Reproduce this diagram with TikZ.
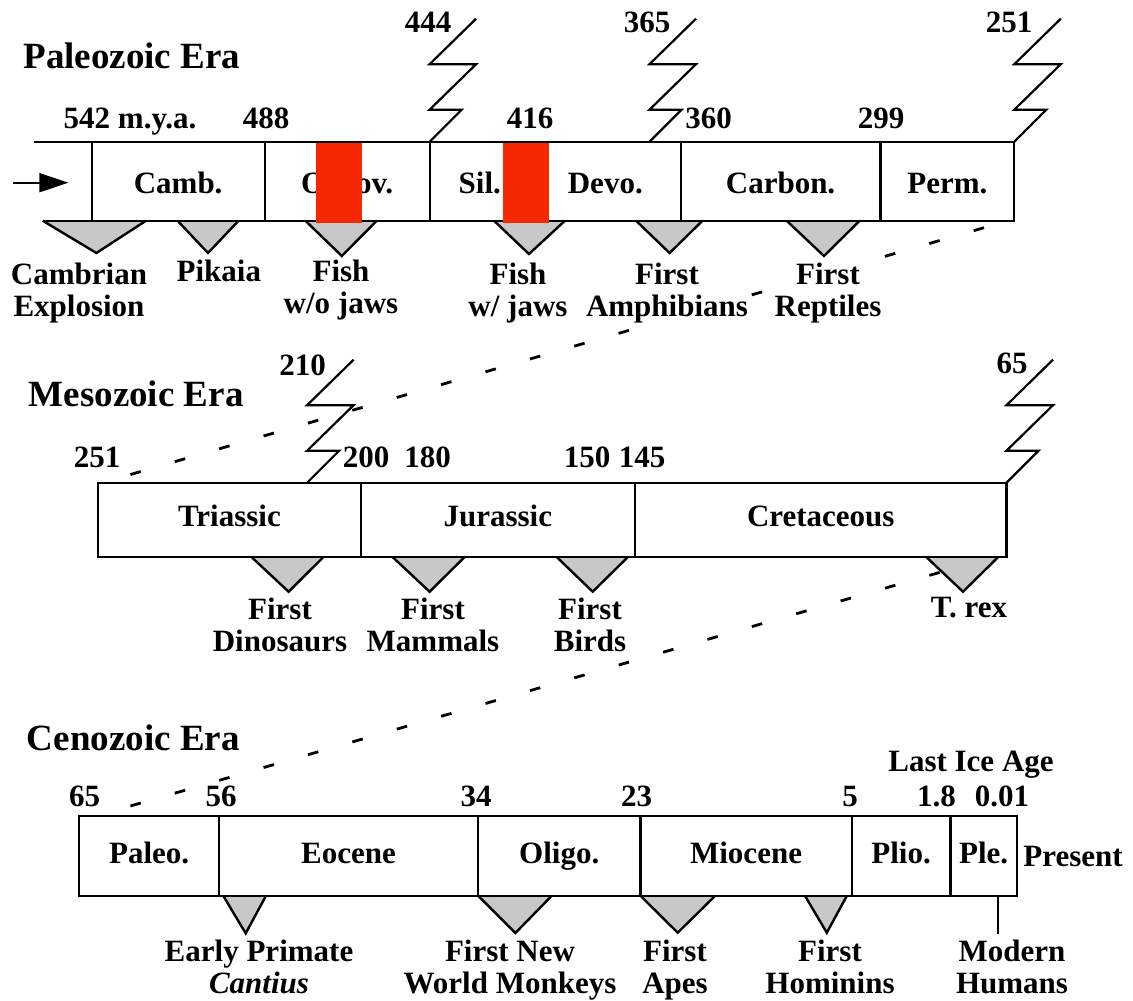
\documentclass[tikz,border=0pt]{standalone}
\usepackage{fontspec}
\setmainfont{Liberation Serif}
\usetikzlibrary{arrows.meta}
\definecolor{trigray}{RGB}{200,200,200}
\definecolor{redbar}{RGB}{245,40,0}
\begin{document}
\begin{tikzpicture}[x=1pt,y=-1pt,
  line/.style={line width=2.2pt},
  per/.style={draw, line width=2.2pt, inner sep=0pt, outer sep=0pt, anchor=north west,
    font=\fontsize{31}{32}\selectfont\bfseries, text depth=0pt},
  rowa/.style={per, minimum height=79pt, text height=24.2pt},
  rowb/.style={per, minimum height=74.6pt, text height=13.4pt},
  rowc/.style={per, minimum height=79.7pt, text height=15pt},
  num/.style={font=\fontsize{31}{32}\selectfont\bfseries, inner sep=0pt, anchor=base},
  eratitle/.style={font=\fontsize{37}{40}\selectfont\bfseries, inner sep=0pt, anchor=base west},
  ev/.style={font=\fontsize{31}{32}\selectfont\bfseries, inner sep=0.5pt, anchor=north, align=center, fill=white},
  trimark/.style={fill=trigray, draw, line width=2.4pt, line join=miter},
  linkdash/.style={line width=2.8pt, dash pattern=on 10.8pt off 35.4pt},
  zz/.pic={\draw[line width=2.2pt, line join=miter] (0,0) -- (32,-32) -- (0,-32) -- (46.5,-77.5) -- (0,-77.5) -- (46.5,-123);}
]
\useasboundingbox (0,0) rectangle (1133,1001);

% ---------------- zoom lines (behind everything) ----------------
\coordinate (d1a) at (130.4,474.5);
\coordinate (d1b) at (984,227.7);
\draw[linkdash] (d1a) -- (d1b);
\coordinate (d2a) at (130.4,806);
\coordinate (d2b) at (941,572);
\draw[linkdash] (d2a) -- (d2b);

% ---------------- Paleozoic ----------------
\node[eratitle] (paleozoic) at (23.2,68.3) {Paleozoic Era};

\draw[trimark] (42.7,220.7) -- (96.4,253) -- (146,220.7);
\draw[trimark] (177.5,220.7) -- (208,253) -- (238.6,220.7);
\draw[trimark] (305.4,220.7) -- (341.8,256) -- (376.8,220.7);
\draw[trimark] (494,220.7) -- (529,254) -- (565,220.7);
\draw[trimark] (636,220.7) -- (669.6,253) -- (702.5,220.7);
\draw[trimark] (786.6,220.7) -- (824,256) -- (859.7,220.7);

\node[rowa, minimum width=172.9pt] (camb) at (91.7,141.7) {Camb.};
\node[rowa, minimum width=165pt] (ordov) at (264.6,141.7) {Ordov.};
\node[rowa, minimum width=100.4pt] (sil) at (429.6,141.7) {Sil.};
\node[rowa, minimum width=150.6pt] (devo) at (530,141.7) {Devo.};
\node[rowa, minimum width=199.9pt] (carb) at (680.6,141.7) {Carbon.};
\node[rowa, minimum width=133.8pt] (perm) at (880.5,141.7) {Perm.};

\coordinate (p0t) at (34.3,141.7);
\coordinate (p0b) at (42.7,220.7);
\draw[line] (p0t) -- (camb.north west);
\draw[line] (p0b) -- (camb.south west);

\coordinate (a0) at (12.7,182.7);
\coordinate (a1) at (68.3,182.7);
\draw[line width=2pt, -{Triangle[length=29pt,width=19pt]}] (a0) -- (a1);

\coordinate (z365) at (649.5,141.7);
\pic at (ordov.north east) {zz};
\pic at (z365) {zz};
\pic at (perm.north east) {zz};

\node[num] (n542) at (130,128.3) {542 m.y.a.};
\node[num] (n488) at (266,128.3) {488};
\node[num] (n416) at (530,128.3) {416};
\node[num] (n360) at (708.5,128.3) {360};
\node[num] (n299) at (881,128.3) {299};
\node[num] (n444) at (428,32.3) {444};
\node[num] (n365) at (647,32.3) {365};
\node[num] (n251a) at (1009,32.3) {251};

\fill[redbar] (316,142.8) rectangle (362,222.6);
\fill[redbar] (503,142.8) rectangle (548.6,222.6);

\node[ev] (cambexp) at (79,262.3) {Cambrian\\Explosion};
\node[ev] (pikaia) at (218.8,258.8) {Pikaia};
\node[ev] (fishno) at (341,258.8) {Fish\\w/o jaws};
\node[ev] (fishjaw) at (518,261.8) {Fish\\w/ jaws};
\node[ev] (amph) at (667,262) {First\\Amphibians};
\node[ev] (rept) at (828,262) {First\\Reptiles};

% ---------------- Mesozoic ----------------
\node[eratitle] (mesozoic) at (28.6,406.7) {Mesozoic Era};

\draw[trimark] (251.8,557.3) -- (288.6,591.7) -- (323.2,557.3);
\draw[trimark] (392.9,557.3) -- (429.6,591.7) -- (464.3,557.3);
\draw[trimark] (557,557.3) -- (592.7,591.7) -- (627.6,557.3);
\draw[trimark] (926.6,557.3) -- (963,591.7) -- (997.9,557.3);

\node[rowb, minimum width=262.5pt] (tri) at (98.2,482.7) {Triassic};
\node[rowb, minimum width=274.3pt] (jur) at (360.7,482.7) {Jurassic};
\node[rowb, minimum width=371.5pt] (cret) at (635,482.7) {Cretaceous};

\coordinate (z210) at (307.1,482.7);
\pic at (z210) {zz};
\pic at (cret.north east) {zz};

\node[num] (n251b) at (97,467.7) {251};
\node[num] (n200) at (366,467.7) {200};
\node[num] (n180) at (427.7,467.7) {180};
\node[num] (n150) at (587,467.7) {150};
\node[num] (n145) at (642,467.7) {145};
\node[num] (n210) at (302.7,375) {210};
\node[num] (n65a) at (1012,373) {65};

\node[ev] (dino) at (280,596.8) {First\\Dinosaurs};
\node[ev] (mamm) at (433,596.8) {First\\Mammals};
\node[ev] (birds) at (590,596.8) {First\\Birds};
\node[ev] (trex) at (969,596.8) {T. rex};

% ---------------- Cenozoic ----------------
\node[eratitle] (cenozoic) at (26.8,750.7) {Cenozoic Era};

\draw[trimark] (223.2,895.7) -- (245.7,933.3) -- (266,895.7);
\draw[trimark] (478,895.7) -- (515.4,933) -- (551.8,895.7);
\draw[trimark] (640.4,895.7) -- (677.7,932.7) -- (715.3,895.7);
\draw[trimark] (804.9,895.7) -- (826.8,932.7) -- (846.9,895.7);

\node[rowc, minimum width=139.7pt] (paleo) at (79.3,816) {Paleo.};
\node[rowc, minimum width=259pt] (eoc) at (219,816) {Eocene};
\node[rowc, minimum width=162.4pt] (olig) at (478,816) {Oligo.};
\node[rowc, minimum width=211.3pt] (mio) at (640.4,816) {Miocene};
\node[rowc, minimum width=98.7pt] (plio) at (851.7,816) {Plio.};
\node[rowc, minimum width=66.5pt] (ple) at (950.4,816) {Ple.};

\node[num] (n65b) at (84.5,806) {65};
\node[num] (n56) at (221,806) {56};
\node[num] (n34) at (476,806) {34};
\node[num] (n23) at (636.5,806) {23};
\node[num] (n5) at (850,806) {5};
\node[num] (n18) at (936.5,806) {1.8};
\node[num] (n001) at (1002,806) {0.01};
\node[num] (ice) at (971,771.7) {Last Ice Age};
\node[num] (present) at (1073,866.7) {Present};

\coordinate (mh0) at (997.9,895.7);
\coordinate (mh1) at (997.9,934.3);
\draw[line width=1.6pt] (mh0) -- (mh1);

\node[ev] (primate) at (259,938.8) {Early Primate\\\textit{Cantius}};
\node[ev] (nwm) at (510,938.8) {First New\\World Monkeys};
\node[ev] (apes) at (675,938.8) {First\\Apes};
\node[ev] (homin) at (830,938.8) {First\\Hominins};
\node[ev] (modern) at (1012,938.8) {Modern\\Humans};
\end{tikzpicture}
\end{document}
